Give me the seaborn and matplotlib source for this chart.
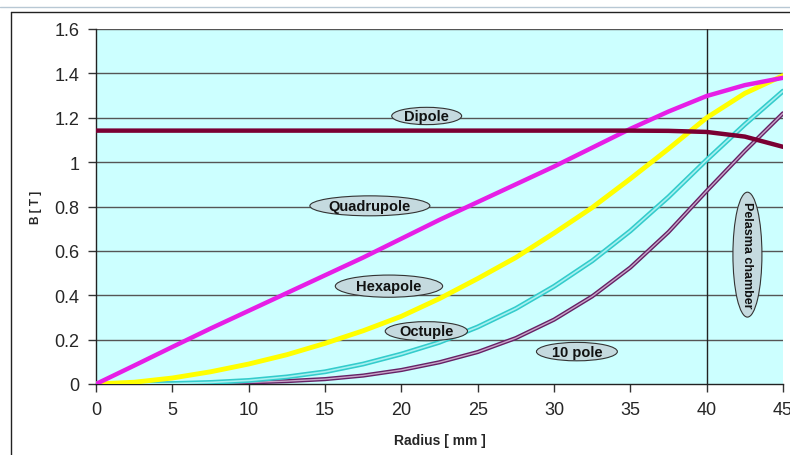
import matplotlib
matplotlib.use("Agg")
import matplotlib.pyplot as plt
from matplotlib.patches import Ellipse
from matplotlib.lines import Line2D
import pandas as pd
import seaborn as sns

# Radial field profiles (B in tesla)
radius = [0, 2.5, 5, 7.5, 10, 12.5, 15, 17.5, 20, 22.5,
          25, 27.5, 30, 32.5, 35, 37.5, 40, 42.5, 45]
dipole = [1.142, 1.142, 1.142, 1.142, 1.142, 1.142, 1.142, 1.142, 1.142, 1.142,
          1.142, 1.142, 1.142, 1.142, 1.142, 1.141, 1.136, 1.115, 1.069]
quadrupole = [0, 0.083, 0.167, 0.25, 0.33, 0.41, 0.49, 0.57, 0.655, 0.74,
              0.82, 0.9, 0.98, 1.065, 1.15, 1.228, 1.298, 1.347, 1.38]
hexapole = [0, 0.008, 0.027, 0.055, 0.09, 0.132, 0.183, 0.24, 0.305, 0.385,
            0.475, 0.57, 0.68, 0.795, 0.925, 1.06, 1.2, 1.31, 1.39]
octupole = [0, 0, 0.002, 0.007, 0.016, 0.032, 0.055, 0.09, 0.135, 0.188,
            0.257, 0.34, 0.44, 0.555, 0.69, 0.843, 1.01, 1.17, 1.32]
pole10 = [0, 0, 0.001, 0.003, 0.007, 0.013, 0.022, 0.038, 0.063, 0.098,
          0.144, 0.207, 0.29, 0.395, 0.525, 0.685, 0.87, 1.05, 1.22]

# label text, centre (mm, T) and ellipse size
labels = ["Dipole", "Quadrupole", "Hexapole", "Octuple", "10 pole"]
label_x = [21.66, 17.94, 19.19, 21.64, 31.5]
label_y = [1.208, 0.803, 0.441, 0.238, 0.146]
label_w = [4.58, 7.86, 7.03, 5.39, 5.3]
label_h = [0.078, 0.09, 0.1, 0.086, 0.083]

df = pd.DataFrame({"radius": radius, "Dipole": dipole, "Quadrupole": quadrupole,
                   "Hexapole": hexapole, "Octupole": octupole, "10 pole": pole10})

sns.set_style("white")
plt.rcParams["font.family"] = ["Liberation Sans", "DejaVu Sans"]

fig = plt.figure(figsize=(7.9, 4.56), dpi=100)
ax = fig.add_axes([96 / 790, 71 / 456, 687 / 790, 355 / 456])
ax.set_facecolor("#ccffff")

# Frame lines of the original chart area
fig.add_artist(Line2D([0, 1], [1 - 8 / 456, 1 - 8 / 456], color="#b8c8d4", lw=1))
fig.add_artist(Line2D([11 / 790, 1], [1 - 13 / 456, 1 - 13 / 456], color="#222222", lw=1))
fig.add_artist(Line2D([11 / 790, 11 / 790], [0, 1 - 13 / 456], color="#222222", lw=1))

for yv in [0.2, 0.4, 0.6, 0.8, 1.0, 1.2, 1.4, 1.6]:
    ax.axhline(yv, color="#555555", lw=1, zorder=1)
ax.axvline(40, color="#222222", lw=1, zorder=1)

line_kw = dict(ax=ax, zorder=3, solid_joinstyle="round", solid_capstyle="round")
sns.lineplot(data=df, x="radius", y="10 pole", color="#662266", lw=3, **line_kw)
sns.lineplot(data=df, x="radius", y="10 pole", color="#c9a6c9", lw=1, **line_kw)
sns.lineplot(data=df, x="radius", y="Octupole", color="#33cccc", lw=3.5, **line_kw)
sns.lineplot(data=df, x="radius", y="Octupole", color="#a8f0f0", lw=1.2, **line_kw)
sns.lineplot(data=df, x="radius", y="Hexapole", color="#ffff00", lw=3.5, **line_kw)
sns.lineplot(data=df, x="radius", y="Quadrupole", color="#e61ee6", lw=3.2, **line_kw)
sns.lineplot(data=df, x="radius", y="Dipole", color="#7a0033", lw=3.2, **line_kw)

for txt, cx, cy, w, h in zip(labels, label_x, label_y, label_w, label_h):
    ax.add_patch(Ellipse((cx, cy), w, h, facecolor="#c5dadf", edgecolor="#333333",
                         lw=0.8, zorder=5))
    ax.text(cx, cy, txt, ha="center", va="center", fontsize=10.5, fontweight="bold",
            color="#111111", zorder=6)

ax.add_patch(Ellipse((42.67, 0.583), 1.9, 0.563, facecolor="#c5dadf",
                     edgecolor="#333333", lw=0.8, zorder=5))
ax.text(42.67, 0.583, "Pelasma chamber", rotation=270, ha="center", va="center",
        fontsize=9, fontweight="bold", color="#111111", zorder=6)

ax.set_xlim(0, 45)
ax.set_ylim(0, 1.6)
ax.set_xticks(range(0, 46, 5))
ax.set_yticks([0, 0.2, 0.4, 0.6, 0.8, 1, 1.2, 1.4, 1.6])
ax.set_yticklabels(["0", "0.2", "0.4", "0.6", "0.8", "1", "1.2", "1.4", "1.6"])
ax.tick_params(axis="both", direction="out", length=6, width=1, color="#333333",
               labelsize=13, pad=6, left=True, bottom=True)
for side in ["top", "right"]:
    ax.spines[side].set_visible(False)
for side in ["left", "bottom"]:
    ax.spines[side].set_color("#222222")
    ax.spines[side].set_linewidth(1)

ax.set_xlabel("Radius [ mm ]", fontsize=10, fontweight="bold", labelpad=11)
ax.set_ylabel("B [ T ]", fontsize=8.5, fontweight="bold", labelpad=9)

fig.savefig("out.png", dpi=100)
